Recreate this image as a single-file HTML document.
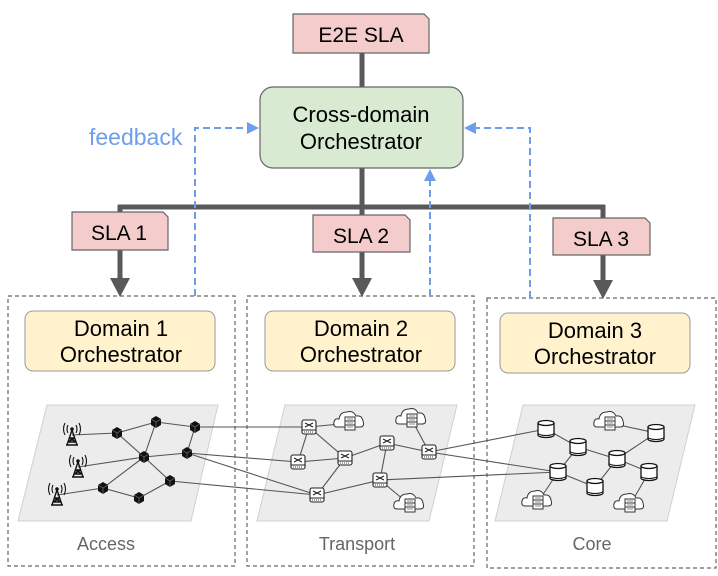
<!DOCTYPE html>
<html><head><meta charset="utf-8"><style>
html,body{margin:0;padding:0;background:#fff;}
svg{display:block;font-family:"Liberation Sans",Arial,sans-serif;}
</style></head><body>
<svg width="718" height="576" viewBox="0 0 718 576" xmlns="http://www.w3.org/2000/svg">
<defs>
<g id="cube"><path d="M-5,-3 L0,-6 L5,-3 L5,3 L0,6 L-5,3Z" fill="#111"/><path d="M-5,-3 L0,0 L5,-3 M0,0 L0,6" stroke="#777" stroke-width="0.7" fill="none"/></g>
<g id="tower"><path d="M0,-3 L-5,12 M0,-3 L5,12 M-3,5 L3,5 M-4,9 L4,9 M-6,12 L6,12 M-3,5 L4,9 M3,5 L-4,9" stroke="#111" stroke-width="1.4" fill="none"/><circle cx="0" cy="-4" r="1.8" fill="#111"/><path d="M-4,-8 Q-6,-4 -4,0 M4,-8 Q6,-4 4,0 M-7,-10 Q-10,-4 -7,2 M7,-10 Q10,-4 7,2" stroke="#111" stroke-width="1.1" fill="none"/></g>
<g id="sw"><rect x="-7" y="-7" width="14" height="14" rx="2" fill="#fff" stroke="#222" stroke-width="1.1"/><line x1="-7" y1="3" x2="7" y2="3" stroke="#222"/><path d="M-4,-4 L4,0 M-4,0 L4,-4" stroke="#222" stroke-width="1.1"/><path d="M-5,5 H5" stroke="#444" stroke-dasharray="1 1"/></g>
<g id="cloud"><path d="M-13,6 Q-17,6 -16,1 Q-15,-3 -11,-2 Q-10,-9 -3,-9 Q3,-11 6,-5 Q12,-6 13,0 Q15,6 10,6 Z" fill="#fff" stroke="#333" stroke-width="1"/><rect x="-5" y="-4" width="10" height="13" fill="#fff" stroke="#333" stroke-width="1"/><path d="M-5,0 H5 M-5,4 H5" stroke="#333"/><path d="M-3,-2 H3 M-3,2 H3 M-3,6 H3" stroke="#666" stroke-width="0.8"/></g>
<g id="db"><path d="M-8,-6 V6 A8,2.5 0 0 0 8,6 V-6" fill="#fff" stroke="#111" stroke-width="1.3"/><ellipse cx="0" cy="-6" rx="8" ry="2.5" fill="#fff" stroke="#111" stroke-width="1.3"/><path d="M-8,4 A8,2.5 0 0 0 8,4" fill="none" stroke="#111"/></g>
<marker id="ab" markerWidth="12" markerHeight="12" refX="10" refY="6" orient="auto" markerUnits="userSpaceOnUse"><path d="M0,0 L12,6 L0,12 Z" fill="#6d9eeb"/></marker>
</defs>

<g fill="none" stroke="#666" stroke-width="1.2" stroke-dasharray="4 3">
<rect x="8" y="296" width="227" height="270"/>
<rect x="247" y="296" width="227" height="270"/>
<rect x="487" y="298" width="229" height="270"/>
</g>

<g fill="#ececec" stroke="#d0d0d0" stroke-width="1">
<path d="M47,405 L218,405 L191,521 L18,521 Z"/>
<path d="M285,405 L457,405 L429,521 L257,521 Z"/>
<path d="M523,405 L695,405 L667,521 L495,521 Z"/>
</g>

<g stroke="#555" stroke-width="1.1" fill="none">
<path d="M72,435 L117,433 L156,422 L195,427 M117,433 L144,457 M156,422 L144,457 M78,467 L144,457 L187,453 L195,427 M144,457 L170,481 L139,498 L103,488 L144,457 M57,495 L103,488"/>
<path d="M195,427 L309,427 M187,453 L298,462 M187,453 L317,495 M170,481 L317,495"/>
<path d="M309,427 L350,423 M309,427 L298,462 L345,458 L309,427 M345,458 L317,495 L380,480 L387,443 L345,458 M387,443 L429,452 L412,420 M380,480 L410,505"/>
<path d="M429,452 L546,429 M429,452 L558,472 M380,480 L558,472"/>
<path d="M546,429 L578,447 L558,472 L595,487 L617,459 L578,447 M617,459 L656,433 L610,423 M617,459 L649,472 L630,505 M558,472 L538,502"/>
</g>

<use href="#tower" x="72" y="433"/><use href="#tower" x="78" y="465"/><use href="#tower" x="57" y="493"/>
<use href="#cube" x="117" y="433"/><use href="#cube" x="156" y="422"/><use href="#cube" x="195" y="427"/><use href="#cube" x="144" y="457"/><use href="#cube" x="187" y="453"/><use href="#cube" x="170" y="481"/><use href="#cube" x="103" y="488"/><use href="#cube" x="139" y="498"/>
<use href="#sw" x="309" y="427"/><use href="#sw" x="298" y="462"/><use href="#sw" x="345" y="458"/><use href="#sw" x="317" y="495"/><use href="#sw" x="387" y="443"/><use href="#sw" x="429" y="452"/><use href="#sw" x="380" y="480"/>
<use href="#cloud" x="350" y="421"/><use href="#cloud" x="412" y="418"/><use href="#cloud" x="410" y="503"/>
<use href="#db" x="546" y="429"/><use href="#db" x="578" y="447"/><use href="#db" x="617" y="459"/><use href="#db" x="558" y="472"/><use href="#db" x="595" y="487"/><use href="#db" x="656" y="433"/><use href="#db" x="649" y="472"/>
<use href="#cloud" x="610" y="421"/><use href="#cloud" x="538" y="500"/><use href="#cloud" x="630" y="503"/>

<g fill="#666" font-size="18" text-anchor="middle">
<text x="106" y="550">Access</text><text x="357" y="550">Transport</text><text x="592" y="550">Core</text>
</g>

<g stroke="#595959" stroke-width="5" fill="none">
<path d="M362,53 V88 M362,168 V207 M118,207 H605 M120,205 V250 M362,207 V215 M603,205 V255"/>
<path d="M120,250 V282 M362,252 V282 M603,255 V284"/>
</g>
<g fill="#595959">
<path d="M110,278 L130,278 L120,297 Z"/>
<path d="M352,278 L372,278 L362,297 Z"/>
<path d="M593,280 L613,280 L603,299 Z"/>
</g>

<g stroke="#6d9eeb" stroke-width="2" fill="none" stroke-dasharray="7 4">
<path d="M195,296 V128 H257" marker-end="url(#ab)"/>
<path d="M530,298 V128 H466" marker-end="url(#ab)"/>
<path d="M430,296 V171" marker-end="url(#ab)"/>
</g>
<text x="89" y="145" fill="#6d9eeb" font-size="23">feedback</text>

<g fill="#f4cccc" stroke="#666" stroke-width="1.2">
<path d="M293,14 H424 L429,19 V53 H293 Z"/>
<path d="M72,212 H163 L168,217 V250 H72 Z"/>
<path d="M313,215 H405 L410,220 V252 H313 Z"/>
<path d="M553,218 H645 L650,223 V255 H553 Z"/>
</g>
<g fill="#000" font-size="21" text-anchor="middle">
<text x="361" y="42">E2E SLA</text>
<text x="119" y="240">SLA 1</text>
<text x="361" y="243">SLA 2</text>
<text x="601" y="246">SLA 3</text>
</g>

<rect x="260" y="87" width="203" height="81" rx="13" fill="#d9ead3" stroke="#666" stroke-width="1.2"/>
<g fill="#fff2cc" stroke="#999" stroke-width="1">
<rect x="25" y="311" width="190" height="60" rx="8"/>
<rect x="265" y="311" width="190" height="60" rx="8"/>
<rect x="500" y="313" width="190" height="60" rx="8"/>
</g>
<g fill="#000" font-size="22" text-anchor="middle">
<text x="361" y="122">Cross-domain</text><text x="361" y="149">Orchestrator</text>
<text x="121" y="336">Domain 1</text><text x="121" y="362">Orchestrator</text>
<text x="361" y="336">Domain 2</text><text x="361" y="362">Orchestrator</text>
<text x="595" y="338">Domain 3</text><text x="595" y="364">Orchestrator</text>
</g>
</svg>
</body></html>
